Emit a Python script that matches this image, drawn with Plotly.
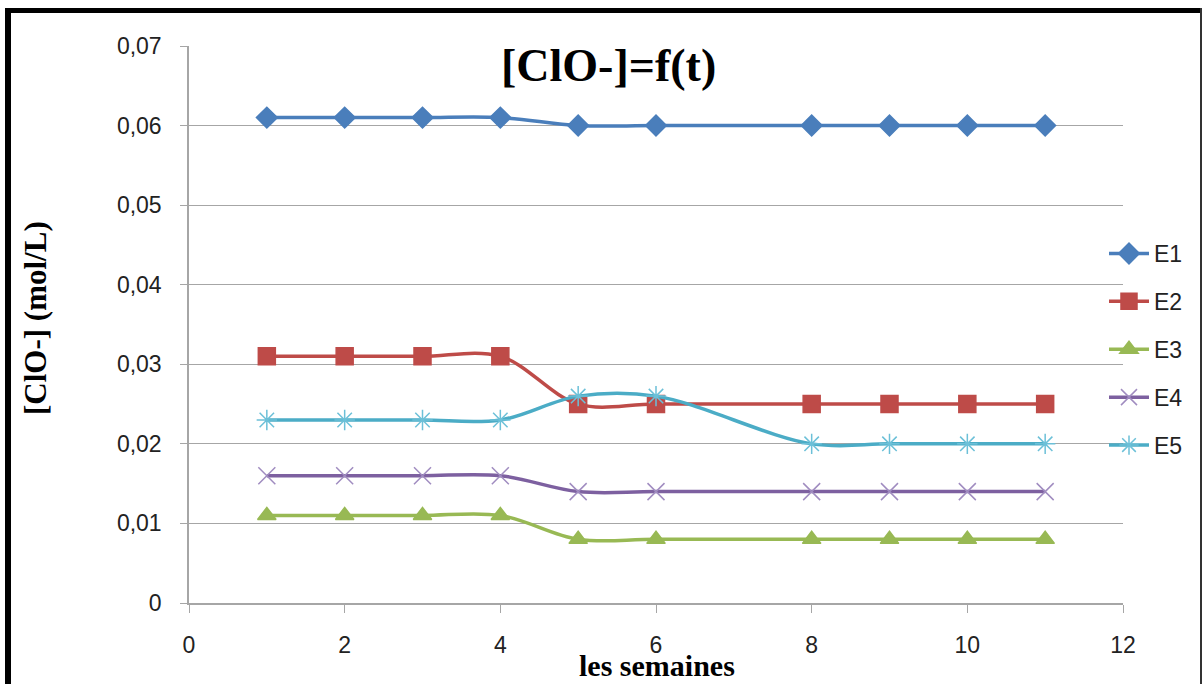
import plotly.graph_objects as go

weeks = [1, 2, 3, 4, 5, 6, 8, 9, 10, 11]
E1 = [0.061, 0.061, 0.061, 0.061, 0.060, 0.060, 0.060, 0.060, 0.060, 0.060]
E2 = [0.031, 0.031, 0.031, 0.031, 0.025, 0.025, 0.025, 0.025, 0.025, 0.025]
E3 = [0.011, 0.011, 0.011, 0.011, 0.008, 0.008, 0.008, 0.008, 0.008, 0.008]
E4 = [0.016, 0.016, 0.016, 0.016, 0.014, 0.014, 0.014, 0.014, 0.014, 0.014]
E5 = [0.023, 0.023, 0.023, 0.023, 0.026, 0.026, 0.020, 0.020, 0.020, 0.020]

y_ticks = [0, 0.01, 0.02, 0.03, 0.04, 0.05, 0.06, 0.07]
y_tick_text = ["0", "0,01", "0,02", "0,03", "0,04", "0,05", "0,06", "0,07"]
x_ticks = [0, 2, 4, 6, 8, 10, 12]

series = [
    ("E1", E1, "#4A7EBB", "diamond", 16, "#4A7EBB"),
    ("E2", E2, "#BE4B48", "square", 17, "#BE4B48"),
    ("E3", E3, "#98B954", "triangle-up", 16, "#98B954"),
    ("E4", E4, "#7D60A0", "x-thin-open", 17, "#A08CC0"),
    ("E5", E5, "#4BACC6", "asterisk-open", 17, "#6CC0D8"),
]

fig = go.Figure()
for i, (name, vals, col, sym, size, mcol) in enumerate(series):
    fig.add_trace(go.Scatter(
        x=weeks, y=vals, name=name, mode="lines+markers",
        legendgroup=f"g{i}",
        line=dict(color=col, width=3.5, shape="spline", smoothing=1),
        marker=dict(symbol=sym, size=size, color=mcol,
                    line=dict(color=mcol, width=1.5)),
    ))

L, R, T, B = 189, 81, 46, 81
W, H = 1204, 684
pw, ph = W - L - R, H - T - B

def px(x):
    return (x - L) / pw

def py(y):
    return (H - B - y) / ph

fig.update_layout(
    width=W, height=H,
    margin=dict(l=L, r=R, t=T, b=B),
    paper_bgcolor="white", plot_bgcolor="white",
    font=dict(family="Liberation Sans", size=23, color="#222"),
    xaxis=dict(range=[0, 12], tickvals=x_ticks, showgrid=False, zeroline=False,
               showline=True, linecolor="#A6A6A6", linewidth=1.5,
               ticks="outside", ticklen=8, tickcolor="#A6A6A6", tickwidth=1,
               ticklabelstandoff=13,
               tickfont=dict(size=23, color="#222")),
    yaxis=dict(range=[0, 0.07], tickvals=y_ticks, ticktext=y_tick_text,
               showgrid=True, gridcolor="#A6A6A6", gridwidth=1, zeroline=False,
               showline=True, linecolor="#A6A6A6", linewidth=1.5,
               ticks="outside", ticklen=7, tickcolor="#A6A6A6",
               ticklabelstandoff=14,
               tickfont=dict(size=23, color="#222")),
    showlegend=True,
    legend=dict(x=px(1104), y=py(232), xanchor="left", yanchor="top",
                font=dict(size=23, family="Liberation Sans", color="#222"),
                tracegroupgap=15, itemwidth=40, bgcolor="rgba(0,0,0,0)"),
    annotations=[
        dict(text="<b>[ClO-]=f(t)</b>", x=px(608), y=py(65), xref="paper", yref="paper",
             xanchor="center", yanchor="middle",
             showarrow=False, font=dict(family="Liberation Serif", size=46, color="black")),
        dict(text="<b>[ClO-] (mol/L)</b>", x=px(35), y=py(318), xref="paper", yref="paper",
             xanchor="center", yanchor="middle",
             showarrow=False, textangle=-90,
             font=dict(family="Liberation Serif", size=31, color="black")),
        dict(text="<b>les semaines</b>", x=px(657), y=py(665), xref="paper", yref="paper",
             xanchor="center", yanchor="middle",
             showarrow=False, font=dict(family="Liberation Serif", size=30, color="black")),
    ],
    shapes=[
        dict(type="line", xref="paper", yref="paper", x0=px(8), x1=px(8), y0=py(8), y1=py(700),
             line=dict(color="black", width=6)),
        dict(type="line", xref="paper", yref="paper", x0=px(5), x1=px(1202), y0=py(10.5), y1=py(10.5),
             line=dict(color="black", width=5)),
        dict(type="line", xref="paper", yref="paper", x0=px(1201), x1=px(1201), y0=py(8), y1=py(700),
             line=dict(color="#333", width=2)),
    ],
)

fig.write_html("out.html")
